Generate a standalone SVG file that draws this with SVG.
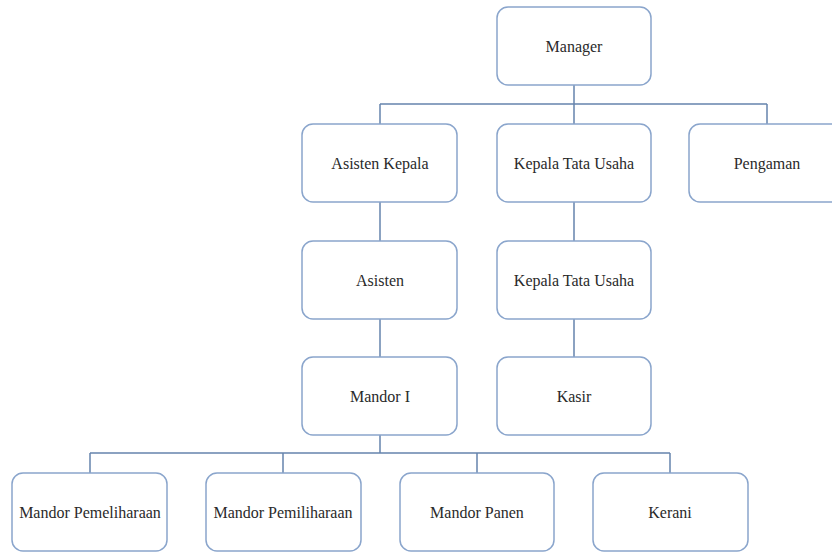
<svg xmlns="http://www.w3.org/2000/svg" width="832" height="552" viewBox="0 0 832 552">
<style>
.box{fill:#ffffff;stroke:#8aa5cc;stroke-width:1.5}
.lbl{font-family:"Liberation Serif","Times New Roman",serif;font-size:16px;fill:#2a2a2a;text-anchor:middle;dominant-baseline:central}
.conn{fill:none;stroke:#6684ad;stroke-width:1.5}
</style>
<rect width="832" height="552" fill="#ffffff"/>
<g id="connectors">
<path class="conn" d="M574 85 V104 M380 104 H767 M380 104 V124 M574 104 V124 M767 104 V124"/>
<path class="conn" d="M380 202 V241 M574 202 V241"/>
<path class="conn" d="M380 319 V357 M574 319 V357"/>
<path class="conn" d="M380 435 V453 M90 453 H670 M90 453 V473 M283 453 V473 M477 453 V473 M670 453 V473"/>
</g>
<g id="manager"><rect class="box" x="497" y="7" width="154" height="78" rx="11"/><text class="lbl" x="574" y="46">Manager</text></g>
<g id="asisten-kepala"><rect class="box" x="302" y="124" width="155" height="78" rx="11"/><text class="lbl" x="380" y="163">Asisten Kepala</text></g>
<g id="kepala-tata-usaha-1"><rect class="box" x="497" y="124" width="154" height="78" rx="11"/><text class="lbl" x="574" y="163">Kepala Tata Usaha</text></g>
<g id="pengaman"><rect class="box" x="689" y="124" width="155" height="78" rx="11"/><text class="lbl" x="767" y="163">Pengaman</text></g>
<g id="asisten"><rect class="box" x="302" y="241" width="155" height="78" rx="11"/><text class="lbl" x="380" y="280">Asisten</text></g>
<g id="kepala-tata-usaha-2"><rect class="box" x="497" y="241" width="154" height="78" rx="11"/><text class="lbl" x="574" y="280">Kepala Tata Usaha</text></g>
<g id="mandor-i"><rect class="box" x="302" y="357" width="155" height="78" rx="11"/><text class="lbl" x="380" y="396">Mandor I</text></g>
<g id="kasir"><rect class="box" x="497" y="357" width="154" height="78" rx="11"/><text class="lbl" x="574" y="396">Kasir</text></g>
<g id="mandor-pemeliharaan"><rect class="box" x="12" y="473" width="155" height="78" rx="11"/><text class="lbl" x="90" y="512">Mandor Pemeliharaan</text></g>
<g id="mandor-pemiliharaan"><rect class="box" x="206" y="473" width="155" height="78" rx="11"/><text class="lbl" x="283" y="512">Mandor Pemiliharaan</text></g>
<g id="mandor-panen"><rect class="box" x="400" y="473" width="154" height="78" rx="11"/><text class="lbl" x="477" y="512">Mandor Panen</text></g>
<g id="kerani"><rect class="box" x="593" y="473" width="155" height="78" rx="11"/><text class="lbl" x="670" y="512">Kerani</text></g>
</svg>
